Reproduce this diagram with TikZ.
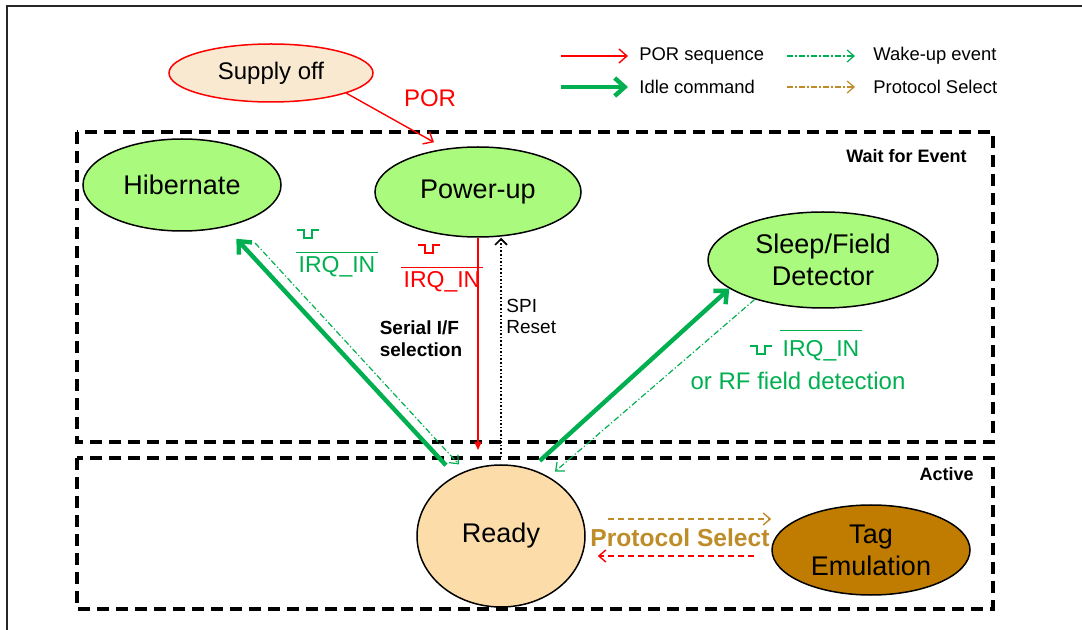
\documentclass[tikz,border=0pt]{standalone}
\usepackage{fontspec}
\setmainfont{Liberation Sans}
\usetikzlibrary{shapes.geometric, arrows.meta}

\definecolor{porred}{RGB}{255,0,0}
\definecolor{idlegreen}{RGB}{0,176,80}
\definecolor{waitfill}{RGB}{170,250,125}
\definecolor{readyfill}{RGB}{252,221,170}
\definecolor{offfill}{RGB}{249,233,209}
\definecolor{tagfill}{RGB}{192,124,0}
\definecolor{selbrown}{RGB}{190,140,40}

\tikzset{
	state/.style = {ellipse, draw, line width=0.75pt, inner sep=0pt, align=center, font=\fontsize{13.5}{16}\selectfont},
	groupbox/.style = {draw, line width=2pt, dash pattern=on 6pt off 3.5pt},
	boxlabel/.style = {inner sep=0pt, font=\bfseries\fontsize{9}{11}\selectfont},
	legend/.style = {inner sep=0pt, anchor=west, font=\fontsize{9.2}{11}\selectfont},
	irq/.style = {inner sep=0pt, anchor=base, font=\fontsize{11.5}{14}\selectfont},
	small/.style = {inner sep=0pt, align=left, font=\fontsize{9.5}{10.5}\selectfont},
	porarrow/.style = {draw=porred, line width=0.7pt, -{Straight Barb[length=4pt,width=7pt]}},
	idlearrow/.style = {draw=idlegreen, line width=2.2pt, -{Straight Barb[length=5pt,width=9pt]}},
	wakearrow/.style = {draw=idlegreen, line width=0.6pt, dash pattern=on 3pt off 1.2pt on 0.6pt off 1.2pt, -{Straight Barb[length=3.5pt,width=6pt]}},
	selarrow/.style = {draw=selbrown, line width=0.6pt, dash pattern=on 3pt off 1.2pt on 0.6pt off 1.2pt, -{Straight Barb[length=3.5pt,width=6pt]}},
	pulse/.style = {line width=0.8pt}
}

\begin{document}
\begin{tikzpicture}[x=0.5pt, y=-0.5pt]
	\useasboundingbox (0,0) rectangle (1082,630);
	\draw[line width=1pt, black!85] (7,630) -- (7,6) -- (1082,6);
	\draw[groupbox] (77,132) rectangle (993,442);
	\draw[groupbox] (77,458) rectangle (993,609);
	\node[boxlabel, anchor = east] (waitlbl) at (967,156) {Wait for Event};
	\node[boxlabel, anchor = east] (actlbl) at (974,474) {Active};

	\draw[porarrow] (561,56) -- (628,56);
	\node[legend] (legpor) at (639,56) {POR sequence};
	\draw[idlearrow] (561,87) -- (628,87);
	\node[legend] (legidle) at (639,87) {Idle command};
	\draw[wakearrow] (787,56) -- (855,56);
	\node[legend] (legwake) at (873,56) {Wake-up event};
	\draw[selarrow] (787,87) -- (855,87);
	\node[legend] (legsel) at (873,87) {Protocol Select};

	\node[state, fill=offfill, draw=porred, minimum width=102pt, minimum height=29pt, font=\fontsize{12}{14}\selectfont] (off) at (271,73) {Supply off};
	\node[state, fill=waitfill, minimum width=99pt, minimum height=46pt] (hib) at (182,185) {Hibernate};
	\node[state, fill=waitfill, minimum width=103pt, minimum height=45pt] (pwr) at (478,192) {Power-up};
	\node[state, fill=waitfill, minimum width=115pt, minimum height=48pt] (slp) at (823,260) {Sleep/Field\\Detector};
	\node[state, fill=readyfill, minimum width=84pt, minimum height=71pt] (rdy) at (501,536) {Ready};
	\node[state, fill=tagfill, minimum width=99pt, minimum height=45pt] (tag) at (871,550) {Tag\\Emulation};

	\draw[porarrow, shorten >=6.5pt] (off.-15) -- (pwr.127);
	\node[inner sep=0pt, text=porred, font=\fontsize{12}{14}\selectfont] (por) at (430,98) {POR};

	\coordinate (porend) at (478,450);
	\draw[draw=porred, line width=0.7pt, -{Triangle[length=4pt,width=3.5pt]}] (pwr.south) -- (porend);
	\draw[line width=0.8pt, densely dotted, -{Straight Barb[length=3pt,width=6pt]}] ([yshift=3.5pt]rdy.north) -- (rdy.north |- pwr.south);
	\node[small, font=\bfseries\fontsize{9.5}{11}\selectfont] (serial) at (421,339) {Serial I/F\\selection};
	\node[small, anchor = west] (spi) at (506,316) {SPI\\Reset};

	\draw[pulse, porred] (418,245) -- ++(7,0) -- ++(0,8) -- ++(8,0) -- ++(0,-8) -- ++(7,0);
	\node[irq, text=porred] (irqpor) at (442,288) {IRQ\_IN};
	\draw[porred, line width=0.8pt] ([xshift=-1pt, yshift=2pt]irqpor.north west) -- ([xshift=1pt, yshift=2pt]irqpor.north east);

	\draw[idlearrow, shorten <=7pt, shorten >=8pt] (rdy.127) -- (hib.-44);
	\draw[wakearrow, shorten <=13pt, shorten >=4.5pt] (hib.-35) -- (rdy.119);
	\draw[pulse, idlegreen] (297,230) -- ++(7,0) -- ++(0,8) -- ++(8,0) -- ++(0,-8) -- ++(7,0);
	\node[irq, text=idlegreen] (irqhib) at (337,273) {IRQ\_IN};
	\draw[idlegreen, line width=0.8pt] ([xshift=-1pt, yshift=2pt]irqhib.north west) -- ([xshift=1pt, yshift=2pt]irqhib.north east);

	\draw[idlearrow, shorten <=6pt] (rdy.66) -- (slp.197);
	\draw[wakearrow, shorten >=4pt] (slp.210) -- (rdy.51);
	\draw[pulse, idlegreen] (750,346) -- ++(7,0) -- ++(0,8) -- ++(8,0) -- ++(0,-8) -- ++(7,0);
	\node[irq, text=idlegreen] (irqslp) at (821,357) {IRQ\_IN};
	\draw[idlegreen, line width=0.8pt] ([xshift=-1pt, yshift=5pt]irqslp.north west) -- ([xshift=1pt, yshift=5pt]irqslp.north east);
	\node[irq, text=idlegreen, font=\fontsize{12}{14}\selectfont] (rfdet) at (798,390) {or RF field detection};

	\node[inner sep=0pt, text=selbrown, font=\bfseries\fontsize{12.3}{14}\selectfont] (ps) at (680,538) {Protocol Select};
	\draw[draw=selbrown, line width=0.7pt, densely dashed, -{Straight Barb[length=3.5pt,width=6pt]}, shorten <=11pt] ([yshift=8.5pt]rdy.east) -- ([yshift=8.5pt]rdy.east -| tag.west);
	\draw[draw=porred, line width=0.7pt, densely dashed, -{Straight Barb[length=3.5pt,width=6pt]}, shorten <=8.5pt, shorten >=6pt] ([yshift=-3pt]tag.west) -- ([yshift=-3pt]tag.west -| rdy.east);
\end{tikzpicture}
\end{document}
